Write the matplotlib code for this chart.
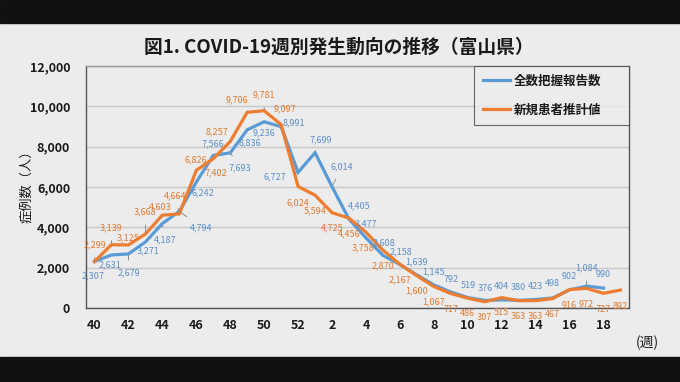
import matplotlib
matplotlib.use("Agg")
import matplotlib.pyplot as plt
from matplotlib.patches import Rectangle
from matplotlib.ticker import FuncFormatter
import numpy as np

# ---------------- data ----------------
weeks = [40, 41, 42, 43, 44, 45, 46, 47, 48, 49, 50, 51, 52,
         1, 2, 3, 4, 5, 6, 7, 8, 9, 10, 11, 12, 13, 14, 15, 16, 17, 18, 19]
reported = [2307, 2631, 2679, 3271, 4187, 4794, 6242, 7566, 7693, 8836, 9236, 8991, 6727,
            7699, 6014, 4405, 3477, 2608, 2158, 1639, 1145, 792, 519, 376, 404, 380,
            423, 498, 902, 1084, 990]
estimated = [2299, 3139, 3125, 3668, 4603, 4664, 6826, 7402, 8257, 9706, 9781, 9097, 6024,
             5594, 4725, 4456, 3758, 2870, 2167, 1600, 1067, 717, 486, 307, 515, 363,
             363, 467, 916, 972, 727, 892]
series_names = ["全数把握報告数", "新規患者推計値"]
title = "図1. COVID-19週別発生動向の推移（富山県）"
ylabel = "症例数（人）"
xunit = "(週)"

# ---------------- label placement (pixel offsets: dx right, dy down) ----------------
blue_off = [(-1.5, 14.5), (-1.5, 10), (0, 19), (2.5, 9), (2.5, 16), (22, 16), (6.5, 11),
            (0, -12), (10, 15), (2.5, 13), (0, 11), (13, -4), (-23, 4), (6, -13), (10, -20),
            (10, -13), (0, -14), (1.5, -13), (1.5, -13), (0, -13), (0, -13), (0, -13),
            (0, -12.5), (0, -12), (0, -13), (0, -13), (0, -13), (0, -14), (0, -13),
            (0, -18), (0, -14)]
blue_lead = {2, 4, 5, 8, 12, 14, 29}
orng_off = [(0, -17), (0, -17), (0, -7), (0, -22), (-2, -8), (-4, -18), (0, -11), (3, 14),
            (-13, -10), (-10, -12), (0, -16), (3.5, -16), (0, 16), (0, 16), (0, 15), (0, 16),
            (-3, 16), (0, 16), (0, 16), (0, 15), (0, 15.5), (0, 16), (0, 15), (0, 16),
            (0, 15), (0, 16), (0, 16), (0, 15.5), (0, 15.5), (0, 16.5), (0, 16), (0, 16)]
orng_lead = {0, 1, 3, 5, 9, 10}

BG = "#ECECEC"
BLUE = "#5B9BD5"
ORANGE = "#ED7D31"
BLUE_T = "#5B8FC9"
ORANGE_T = "#E07A30"

plt.rcParams["font.family"] = ["Noto Sans CJK JP", "DejaVu Sans"]

fig = plt.figure(figsize=(6.8, 3.82), dpi=100, facecolor=BG)
ax = fig.add_axes([86 / 680, 1 - 308 / 382, (629 - 86) / 680, (308 - 66) / 382])
ax.set_facecolor(BG)

# black letterbox bands
fig.patches.append(Rectangle((0, 1 - 23 / 382), 1, 23 / 382, transform=fig.transFigure,
                             color="#111111", zorder=-1))
fig.patches.append(Rectangle((0, 0), 1, 25 / 382, transform=fig.transFigure,
                             color="#111111", zorder=-1))

xb = np.arange(len(reported))
xo = np.arange(len(estimated))
ax.plot(xb, reported, color=BLUE, lw=2.3, label=series_names[0], zorder=3,
        solid_joinstyle="miter")
ax.plot(xo, estimated, color=ORANGE, lw=2.3, label=series_names[1], zorder=4,
        solid_joinstyle="miter")

ax.set_xlim(-0.5, 31.5)
ax.set_ylim(0, 12000)
ax.set_yticks(np.arange(0, 12001, 2000))
ax.yaxis.set_major_formatter(FuncFormatter(lambda v, p: f"{int(v):,}"))
ax.set_xticks(xo[::2])
ax.set_xticklabels([str(w) for w in weeks[::2]])
ax.tick_params(axis="both", length=0, labelsize=9)
ax.tick_params(axis="y", pad=11.5)
ax.tick_params(axis="x", pad=8)
for lab in ax.get_xticklabels() + ax.get_yticklabels():
    lab.set_fontweight("bold")
    lab.set_color("#1a1a1a")

ax.grid(axis="y", color="#C8C8C8", lw=1.0)
ax.set_axisbelow(True)
for side in ["left", "bottom", "right", "top"]:
    ax.spines[side].set_color("#555555")
    ax.spines[side].set_linewidth(1.0)
ax.spines["top"].set_color("#9a9a9a")

def put_labels(xs, vals, offs, leads, color):
    for i, (x, v) in enumerate(zip(xs, vals)):
        dx, dy = offs[i]
        kw = {}
        if i in leads:
            kw["arrowprops"] = dict(arrowstyle="-", color="#7F7F7F", lw=0.6,
                                    shrinkA=4, shrinkB=1)
        ax.annotate(f"{v:,}", xy=(x, v), xytext=(dx * 0.72, -dy * 0.72),
                    textcoords="offset points", ha="center", va="center",
                    fontsize=6.5, color=color, zorder=6, annotation_clip=False, **kw)

put_labels(xb, reported, blue_off, blue_lead, BLUE_T)
put_labels(xo, estimated, orng_off, orng_lead, ORANGE_T)

leg = ax.legend(loc="upper left", bbox_to_anchor=((474 - 86) / 543, 0, 155 / 543, 1.0),
                mode="expand", borderaxespad=0, fancybox=False, frameon=True,
                prop={"size": 9, "weight": "bold"}, handlelength=2.2, handletextpad=0.3,
                labelspacing=1.25, borderpad=0.7)
leg.get_frame().set_edgecolor("#444444")
leg.get_frame().set_linewidth(0.8)
leg.get_frame().set_facecolor(BG)
for t in leg.get_texts():
    t.set_color("#1a1a1a")

fig.text(339 / 680, 1 - 47 / 382, title, ha="center", va="center", fontsize=13.5,
         fontweight="bold", color="#1a1a1a")
fig.text(27 / 680, 1 - 183 / 382, ylabel, ha="center", va="center", rotation=90,
         fontsize=9.5, color="#1a1a1a")
fig.text(647 / 680, 1 - 343 / 382, xunit, ha="center", va="center", fontsize=10,
         color="#1a1a1a")

fig.savefig("out.png", dpi=100, facecolor=BG)
